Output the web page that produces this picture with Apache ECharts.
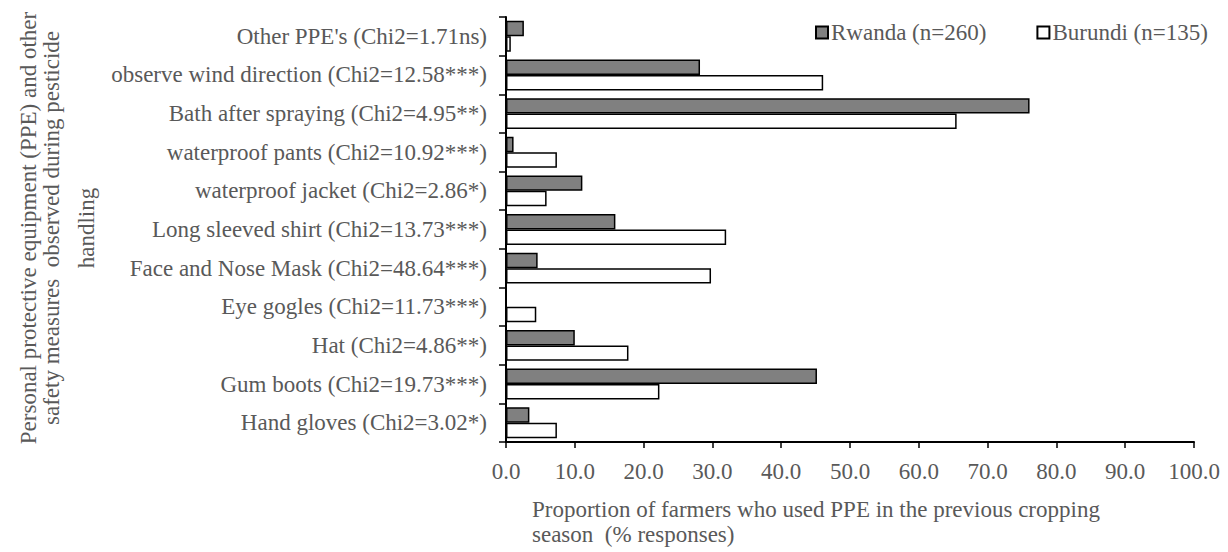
<!DOCTYPE html>
<html>
<head>
<meta charset="utf-8">
<script src="https://cdn.jsdelivr.net/npm/echarts@6/dist/echarts.min.js"></script>
<style>
  html, body { margin: 0; padding: 0; background: #ffffff; }
  #chart { width: 1228px; height: 552px; }
</style>
</head>
<body>
<div id="chart"></div>
<script>
// Protective practices, listed top to bottom
const categories = [
  "Other PPE's (Chi2=1.71ns)",
  "observe wind direction (Chi2=12.58***)",
  "Bath after spraying (Chi2=4.95**)",
  "waterproof pants (Chi2=10.92***)",
  "waterproof jacket (Chi2=2.86*)",
  "Long sleeved shirt (Chi2=13.73***)",
  "Face and Nose Mask (Chi2=48.64***)",
  "Eye gogles (Chi2=11.73***)",
  "Hat (Chi2=4.86**)",
  "Gum boots (Chi2=19.73***)",
  "Hand gloves (Chi2=3.02*)"
];

// Share of farmers (%) per practice
const rwanda  = [2.6, 28.2, 76.1, 1.1, 11.1, 15.9, 4.6, 0.0, 10.0, 45.2, 3.4];
const burundi = [0.7, 46.1, 65.5, 7.4, 5.9, 32.0, 29.8, 4.4, 17.8, 22.3, 7.4];

const seriesNames = ['Rwanda (n=260)', 'Burundi (n=135)'];

const yTitleLines = [
  'Personal protective equipment (PPE) and other',
  'safety measures  observed during pesticide',
  'handling'
];
const xTitleLines = [
  'Proportion of farmers who used PPE in the previous cropping',
  'season  (% responses)'
];

const FONT = '"Liberation Serif", "Times New Roman", serif';
const GREY_TEXT = '#595959';

const chart = echarts.init(document.getElementById('chart'), null, { renderer: 'svg' });

// horizontal centres of the three rotated title lines
const yTitleX = [28, 51, 86];

chart.setOption({
  animation: false,
  backgroundColor: '#ffffff',
  textStyle: { fontFamily: FONT },
  grid: { left: 506, right: 34, top: 17, bottom: 110, containLabel: false },
  legend: {
    data: seriesNames,
    left: 810,
    top: 16,
    icon: 'rect',
    itemWidth: 12,
    itemHeight: 12,
    itemGap: 50,
    textStyle: { fontFamily: FONT, fontSize: 23, color: GREY_TEXT, padding: [0, 0, 0, -2] }
  },
  xAxis: {
    type: 'value',
    min: 0,
    max: 100,
    interval: 10,
    axisLine: { show: true, lineStyle: { color: '#000000', width: 2 } },
    axisTick: { show: true, length: 6, lineStyle: { color: '#000000', width: 1.5 } },
    splitLine: { show: false },
    axisLabel: {
      color: GREY_TEXT, fontFamily: FONT, fontSize: 23, margin: 18,
      formatter: v => v.toFixed(1)
    }
  },
  yAxis: {
    type: 'category',
    data: categories,
    inverse: true,
    axisLine: { show: true, lineStyle: { color: '#000000', width: 2 } },
    axisTick: { show: true, length: 7, lineStyle: { color: '#000000', width: 1.5 } },
    axisLabel: { color: GREY_TEXT, fontFamily: FONT, fontSize: 23, margin: 19 }
  },
  series: [
    {
      name: seriesNames[0],
      type: 'bar',
      data: rwanda,
      barGap: '0%',
      barCategoryGap: '20%',
      itemStyle: { color: '#808080', borderColor: '#000000', borderWidth: 1.5 }
    },
    {
      name: seriesNames[1],
      type: 'bar',
      data: burundi,
      barGap: '0%',
      barCategoryGap: '20%',
      itemStyle: { color: '#ffffff', borderColor: '#000000', borderWidth: 1.5 }
    }
  ],
  graphic: [
    ...yTitleLines.map((line, i) => ({
      type: 'text',
      x: yTitleX[i],
      y: 228,
      rotation: Math.PI / 2,
      style: {
        text: line,
        fontFamily: FONT,
        fontSize: 23,
        fill: GREY_TEXT,
        textAlign: 'center',
        textVerticalAlign: 'middle'
      }
    })),
    {
      type: 'text',
      left: 532,
      top: 497,
      style: {
        text: xTitleLines.join('\n'),
        fontFamily: FONT,
        fontSize: 23,
        lineHeight: 25,
        fill: GREY_TEXT,
        textAlign: 'left'
      }
    }
  ]
});
</script>
</body>
</html>
